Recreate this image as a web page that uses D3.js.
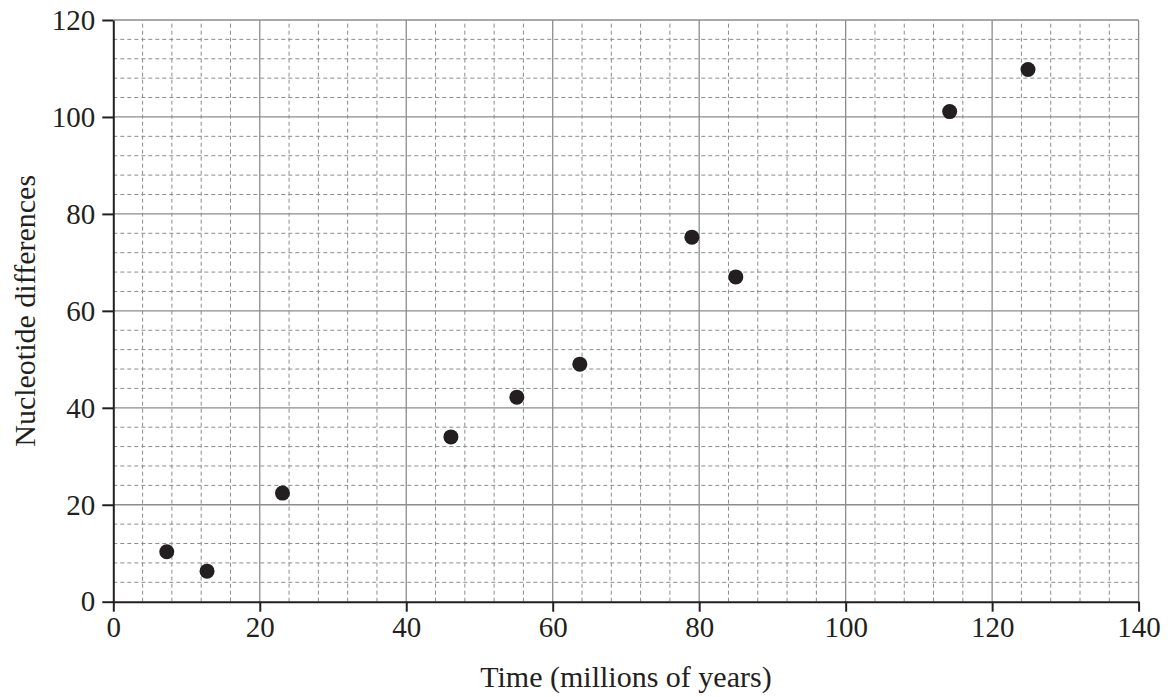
<!DOCTYPE html>
<html lang="en">
<head>
  <meta charset="UTF-8">
  <title>Nucleotide differences over time</title>
  <script src="https://d3js.org/d3.v7.min.js"></script>
  <style>
    body {
      margin: 0;
      background: #fff;
    }
    svg {
      display: block;
      font-family: "Liberation Serif", "DejaVu Serif", serif;
    }
    .minor line {
      stroke: #8c8c8c;
      stroke-width: 1;
      stroke-dasharray: 4 3;
    }
    .major line {
      stroke: #8c8c8c;
      stroke-width: 1.3;
    }
    .axis path, .axis line {
      stroke: #231f20;
      stroke-width: 2;
    }
    .axis text {
      font-family: "Liberation Serif", serif;
      font-size: 29px;
      fill: #231f20;
    }
    .title {
      font-size: 30px;
      fill: #231f20;
    }
  </style>
</head>
<body>
<svg width="1171" height="697"></svg>
<script>
  // time (millions of years) vs nucleotide differences
  const time = [7.3, 12.8, 23.1, 46.1, 55.1, 63.7, 79.0, 85.0, 114.2, 124.9];
  const diffs = [10.3, 6.3, 22.4, 34.0, 42.2, 49.0, 75.2, 67.0, 101.1, 109.8];
  const xTicks = [0, 20, 40, 60, 80, 100, 120, 140];
  const yTicks = [0, 20, 40, 60, 80, 100, 120];

  const svg = d3.select("svg");
  const margin = {left: 113.3, right: 1171 - 1138.6, top: 20, bottom: 697 - 601.7};
  const width = +svg.attr("width");
  const height = +svg.attr("height");

  const x = d3.scaleLinear().domain([0, 140]).range([margin.left, width - margin.right]);
  const y = d3.scaleLinear().domain([0, 120]).range([height - margin.bottom, margin.top]);

  const minorX = d3.range(0, 141, 4).filter(v => v % 20 !== 0);
  const minorY = d3.range(0, 121, 4).filter(v => v % 20 !== 0);

  // dashed minor grid
  const minor = svg.append("g").attr("class", "minor");
  minor.selectAll("line.v").data(minorX).join("line")
    .attr("class", "v")
    .attr("x1", d => x(d)).attr("x2", d => x(d))
    .attr("y1", y(0)).attr("y2", y(120));
  minor.selectAll("line.h").data(minorY).join("line")
    .attr("class", "h")
    .attr("x1", x(0)).attr("x2", x(140))
    .attr("y1", d => y(d)).attr("y2", d => y(d));

  // solid major grid
  const major = svg.append("g").attr("class", "major");
  major.selectAll("line.v").data(xTicks.slice(1)).join("line")
    .attr("class", "v")
    .attr("x1", d => x(d)).attr("x2", d => x(d))
    .attr("y1", y(0)).attr("y2", y(120));
  major.selectAll("line.h").data(yTicks.slice(1)).join("line")
    .attr("class", "h")
    .attr("x1", x(0)).attr("x2", x(140))
    .attr("y1", d => y(d)).attr("y2", d => y(d));

  svg.append("g")
    .attr("class", "axis")
    .attr("transform", `translate(0,${y(0)})`)
    .call(d3.axisBottom(x).tickValues(xTicks).tickSize(10).tickPadding(5).tickSizeOuter(0))
    .attr("font-family", null)
    .attr("font-size", null);

  svg.append("g")
    .attr("class", "axis")
    .attr("transform", `translate(${x(0)},0)`)
    .call(d3.axisLeft(y).tickValues(yTicks).tickSize(11).tickPadding(7).tickSizeOuter(0))
    .attr("font-family", null)
    .attr("font-size", null);

  svg.append("g")
    .selectAll("circle")
    .data(time.map((t, i) => [t, diffs[i]]))
    .join("circle")
    .attr("cx", d => x(d[0]))
    .attr("cy", d => y(d[1]))
    .attr("r", 7.5)
    .attr("fill", "#231f20");

  svg.append("text")
    .attr("class", "title")
    .attr("x", (x(0) + x(140)) / 2)
    .attr("y", 687)
    .attr("text-anchor", "middle")
    .text("Time (millions of years)");

  svg.append("text")
    .attr("class", "title")
    .attr("transform", `translate(35,${(y(0) + y(120)) / 2}) rotate(-90)`)
    .attr("text-anchor", "middle")
    .text("Nucleotide differences");
</script>
</body>
</html>
